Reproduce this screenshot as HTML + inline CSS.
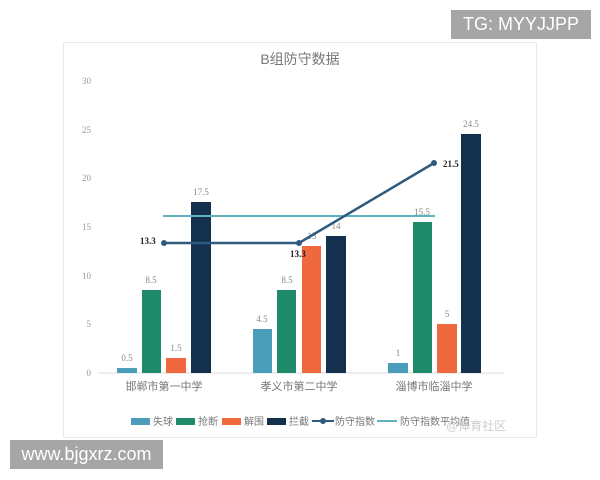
<!DOCTYPE html>
<html><head><meta charset="utf-8"><style>
body{margin:0;width:600px;height:480px;background:#fff;position:relative;overflow:hidden;font-family:"Liberation Sans","Noto Sans CJK SC",sans-serif}
.box{position:absolute;background:#a6a6a6;color:#fff;font-size:18px;}
</style></head><body>
<svg width="600" height="480" style="position:absolute;left:0;top:0" font-family="Liberation Serif, Noto Sans CJK SC, serif">
<rect x="63.5" y="42.5" width="473" height="395" fill="#fff" stroke="#e8e8e8"/>
<text x="300" y="64" text-anchor="middle" font-size="14" fill="#777" font-family="Liberation Sans, Noto Sans CJK SC, sans-serif">B组防守数据</text>
<g font-size="9" fill="#999" text-anchor="end">
<text x="91" y="84">30</text><text x="91" y="133">25</text><text x="91" y="181">20</text>
<text x="91" y="230">15</text><text x="91" y="279">10</text><text x="91" y="327">5</text><text x="91" y="376">0</text>
</g>
<line x1="98" y1="373" x2="504" y2="373" stroke="#ddd"/>
<g>
<rect x="117" y="368" width="20" height="5" fill="#4a9db8"/>
<rect x="142" y="290" width="19" height="83" fill="#1e8a6a"/>
<rect x="166" y="358" width="20" height="15" fill="#f0683e"/>
<rect x="191" y="202" width="20" height="171" fill="#13304d"/>
<rect x="253" y="329" width="19" height="44" fill="#4a9db8"/>
<rect x="277" y="290" width="19" height="83" fill="#1e8a6a"/>
<rect x="302" y="246" width="19" height="127" fill="#f0683e"/>
<rect x="326" y="236" width="20" height="137" fill="#13304d"/>
<rect x="388" y="363" width="20" height="10" fill="#4a9db8"/>
<rect x="413" y="222" width="19" height="151" fill="#1e8a6a"/>
<rect x="437" y="324" width="20" height="49" fill="#f0683e"/>
<rect x="461" y="134" width="20" height="239" fill="#13304d"/>
</g>
<g font-size="9" fill="#888" text-anchor="middle">
<text x="127" y="361">0.5</text><text x="151" y="283">8.5</text><text x="176" y="351">1.5</text><text x="201" y="195">17.5</text>
<text x="262" y="322">4.5</text><text x="287" y="283">8.5</text><text x="312" y="239">13</text><text x="336" y="229">14</text>
<text x="398" y="356">1</text><text x="422" y="215">15.5</text><text x="447" y="317">5</text><text x="471" y="127">24.5</text>
</g>
<line x1="163" y1="216" x2="435" y2="216" stroke="#5fb3c0" stroke-width="2"/>
<polyline points="164,243 299,243 434,163" fill="none" stroke="#2e5a7e" stroke-width="2.5"/>
<circle cx="164" cy="243" r="3" fill="#2e5a7e"/><circle cx="299" cy="243" r="3" fill="#2e5a7e"/><circle cx="434" cy="163" r="3" fill="#2e5a7e"/>
<g font-size="9" font-weight="bold" fill="#222">
<text x="140" y="244">13.3</text><text x="290" y="257">13.3</text><text x="443" y="167">21.5</text>
</g>
<g font-size="11" fill="#777" text-anchor="middle" font-family="Liberation Sans, Noto Sans CJK SC, sans-serif">
<text x="164" y="390">邯郸市第一中学</text><text x="299" y="390">孝义市第二中学</text><text x="434" y="390">淄博市临淄中学</text>
</g>
<g font-size="10" fill="#777" font-family="Liberation Sans, Noto Sans CJK SC, sans-serif">
<rect x="131" y="418" width="19" height="7" fill="#4a9db8"/><text x="153" y="425">失球</text>
<rect x="176" y="418" width="19" height="7" fill="#1e8a6a"/><text x="198" y="425">抢断</text>
<rect x="222" y="418" width="19" height="7" fill="#f0683e"/><text x="244" y="425">解围</text>
<rect x="267" y="418" width="19" height="7" fill="#13304d"/><text x="289" y="425">拦截</text>
<line x1="312" y1="421" x2="334" y2="421" stroke="#2e5a7e" stroke-width="2"/><circle cx="323" cy="421" r="3" fill="#2e5a7e"/><text x="335" y="425">防守指数</text>
<line x1="377" y1="421" x2="397" y2="421" stroke="#5fb3c0" stroke-width="2"/><text x="400" y="425">防守指数平均值</text>
<text x="446" y="430" fill="#ccc" font-size="12">@体育社区</text>
</g>
</svg>
<div class="box" style="left:451px;top:10px;width:140px;height:29px;line-height:29px;text-align:center">TG: MYYJJPP</div>
<div class="box" style="left:10px;top:440px;width:153px;height:29px;line-height:29px;text-align:center">www.bjgxrz.com</div>
</body></html>
